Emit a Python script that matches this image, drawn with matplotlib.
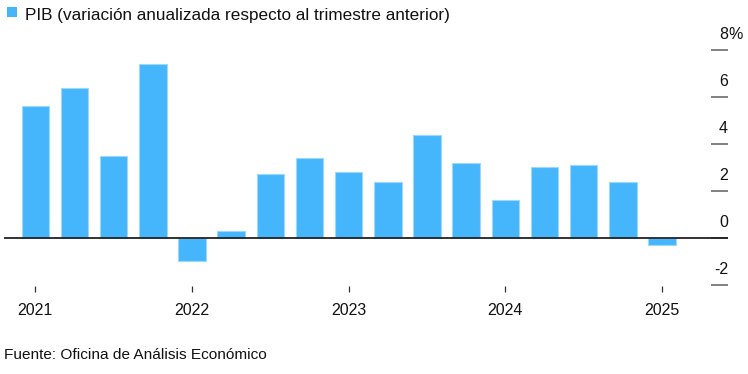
import matplotlib
matplotlib.use("Agg")
import matplotlib.pyplot as plt
import matplotlib.transforms as mtransforms
from matplotlib.patches import Rectangle

plt.rcParams['font.family'] = ['Liberation Sans', 'DejaVu Sans']

# Data: US GDP, annualized quarter-over-quarter change (%)
quarters = ["2021Q1", "2021Q2", "2021Q3", "2021Q4",
            "2022Q1", "2022Q2", "2022Q3", "2022Q4",
            "2023Q1", "2023Q2", "2023Q3", "2023Q4",
            "2024Q1", "2024Q2", "2024Q3", "2024Q4",
            "2025Q1"]
gdp = [5.6, 6.4, 3.5, 7.4,
       -1.0, 0.3, 2.7, 3.4,
       2.8, 2.4, 4.4, 3.2,
       1.6, 3.0, 3.1, 2.4,
       -0.3]
year_labels = ["2021", "2022", "2023", "2024", "2025"]
y_ticks = [8, 6, 4, 2, 0, -2]
y_labels = ["8", "6", "4", "2", "0", "-2"]

title = "PIB (variación anualizada respecto al trimestre anterior)"
source = "Fuente: Oficina de Análisis Económico"

W, H = 748, 374
fig = plt.figure(figsize=(W / 100, H / 100), dpi=100)

# axes placement in pixels
left_px, right_px, top_px, bottom_px = 4, 728, 50, 286
ax = fig.add_axes([left_px / W, 1 - bottom_px / H,
                   (right_px - left_px) / W, (bottom_px - top_px) / H])

bar_color = "#45b6fb"
x = list(range(len(gdp)))
ax.bar(x, gdp, width=0.7, color=bar_color, edgecolor="#9fd8fd", linewidth=0.8, zorder=2)
ax.axhline(0, color="#222222", linewidth=1.3, zorder=3)

# x limits: bar centers spaced ~39.17px starting at 35.3px
step = 39.17
ax.set_xlim((left_px - 35.3) / step, (right_px - 35.3) / step)
ax.set_ylim(-2.05, 8)

for s in ax.spines.values():
    s.set_visible(False)

year_pos = [i for i, q in enumerate(quarters) if q.endswith("Q1")]
ax.set_xticks(year_pos)
ax.set_xticklabels(year_labels, fontsize=11.5, color="#111111")
ax.tick_params(axis="x", direction="out", length=4.5, width=0.9, color="#333333", pad=8)

ax.yaxis.tick_right()
ax.set_yticks(y_ticks)
ax.set_yticklabels([])
ax.tick_params(axis="y", direction="in", length=12, width=1.3, color="#777777", pad=0)

trans = mtransforms.blended_transform_factory(ax.transAxes, ax.transData)
offset = mtransforms.ScaledTranslation(0, 8 / 72, fig.dpi_scale_trans)
for v, lab in zip(y_ticks, y_labels):
    ax.text(1.0, v, lab, transform=trans + offset, ha="right", va="baseline",
            fontsize=11.5, color="#111111", clip_on=False)
    if v == max(y_ticks):
        ax.text(1.0, v, "%", transform=trans + offset, ha="left", va="baseline",
                fontsize=11.5, color="#111111", clip_on=False)

# legend square + title
fig.add_artist(Rectangle((6.5 / W, 1 - 17 / H), 10.5 / W, 10.5 / H,
                         transform=fig.transFigure, facecolor=bar_color, edgecolor="none"))
fig.text(25 / W, 1 - 20 / H, title, fontsize=12.3, color="#111111", va="baseline", ha="left")

fig.text(4 / W, 1 - 359 / H, source, fontsize=11.1, color="#111111", va="baseline", ha="left")

fig.savefig("out.png", dpi=100)
